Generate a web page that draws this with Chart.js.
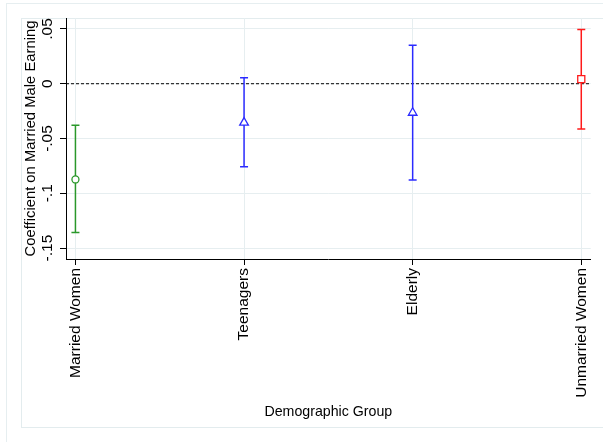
<!DOCTYPE html>
<html>
<head>
<meta charset="utf-8">
<script src="https://cdn.jsdelivr.net/npm/chart.js@4.4.1/dist/chart.umd.min.js"></script>
<style>
  body { margin: 0; background: #fff; }
  #wrap { position: relative; width: 603px; height: 442px; overflow: hidden; }
  #outer { position: absolute; left: 6px; top: 3px; width: 700px; height: 600px; border: 1px solid #e6eef0; }
  #inner { position: absolute; left: 21px; top: 18px; width: 700px; height: 408px; border: 1px solid #e3ecee; }
  canvas { position: absolute; left: 0; top: 0; }
</style>
</head>
<body>
<div id="wrap">
  <div id="outer"></div>
  <div id="inner"></div>
  <canvas id="coefChart" width="603" height="442"></canvas>
</div>
<script>
const groups = ['Married Women', 'Teenagers', 'Elderly', 'Unmarried Women'];
const estimates = [-0.0874, -0.0355, -0.0265, 0.0042];
const lowerCI = [-0.1359, -0.0758, -0.0878, -0.0413];
const upperCI = [-0.0380, 0.0055, 0.0352, 0.0494];
const yTicks = [-0.15, -0.1, -0.05, 0, 0.05];
const yTickLabels = ['-.15', '-.1', '-.05', '0', '.05'];
const groupColors = ['#2a982a', '#2b2bff', '#2b2bff', '#ff1a1a'];
const markerStyles = ['circle', 'triangle', 'triangle', 'rect'];
const markerSizes = [3.5, 5, 5, 5];

const xMin = 0.944;
const xMax = 4.056;
const refLine = 0;
const font = "'Liberation Sans', Arial, sans-serif";

const markers = {
  type: 'scatter',
  data: estimates.map((v, i) => ({ x: i + 1, y: v })),
  pointStyle: markerStyles,
  pointRadius: markerSizes,
  pointBackgroundColor: '#fff',
  pointBorderColor: groupColors,
  pointBorderWidth: 1.3,
};

const whiskers = groups.map((g, i) => ({
  type: 'line',
  data: [{ x: i + 1, y: lowerCI[i] }, { x: i + 1, y: upperCI[i] }],
  borderColor: groupColors[i],
  borderWidth: 1.5,
  pointStyle: 'line',
  pointRadius: 4,
  pointBorderColor: groupColors[i],
  pointBorderWidth: 1.5,
}));

const zeroLine = {
  type: 'line',
  data: [{ x: xMin, y: refLine }, { x: xMax, y: refLine }],
  borderColor: '#000',
  borderWidth: 1,
  borderDash: [3, 2],
  pointRadius: 0,
};

const chart = new Chart(document.getElementById('coefChart'), {
  type: 'scatter',
  data: { datasets: [markers, ...whiskers, zeroLine] },
  options: {
    responsive: false,
    animation: false,
    layout: { padding: { left: 0, top: 18, right: 7, bottom: 0 } },
    plugins: { legend: { display: false }, tooltip: { enabled: false } },
    scales: {
      x: {
        type: 'linear',
        min: xMin,
        max: xMax,
        afterBuildTicks: s => { s.ticks = groups.map((g, i) => ({ value: i + 1 })); },
        afterFit: s => { s.height = 183; },
        ticks: {
          callback: v => groups[v - 1],
          minRotation: 90,
          maxRotation: 90,
          padding: 3,
          color: '#000',
          font: { family: font, size: 15.5 },
        },
        grid: { color: '#e6eef0', tickColor: '#000', tickLength: 6 },
        border: { color: '#000', width: 1 },
        title: {
          display: true,
          text: 'Demographic Group',
          color: '#000',
          font: { family: font, size: 14.2 },
          padding: { top: 0, bottom: 21 },
        },
      },
      y: {
        min: -0.16,
        max: 0.06,
        afterBuildTicks: s => { s.ticks = yTicks.map(v => ({ value: v })); },
        afterFit: s => { s.width = 66; },
        ticks: {
          callback: (v, i) => yTickLabels[i],
          minRotation: 90,
          maxRotation: 90,
          crossAlign: 'center',
          padding: -1,
          color: '#000',
          font: { family: font, size: 15.5 },
        },
        grid: { color: '#e6eef0', tickColor: '#000', tickLength: 6 },
        border: { color: '#000', width: 1 },
        title: {
          display: true,
          text: 'Coefficient on Married Male Earning',
          color: '#000',
          font: { family: font, size: 14.8 },
          padding: { top: 22, bottom: 0 },
        },
      },
    },
  },
});
</script>
</body>
</html>
